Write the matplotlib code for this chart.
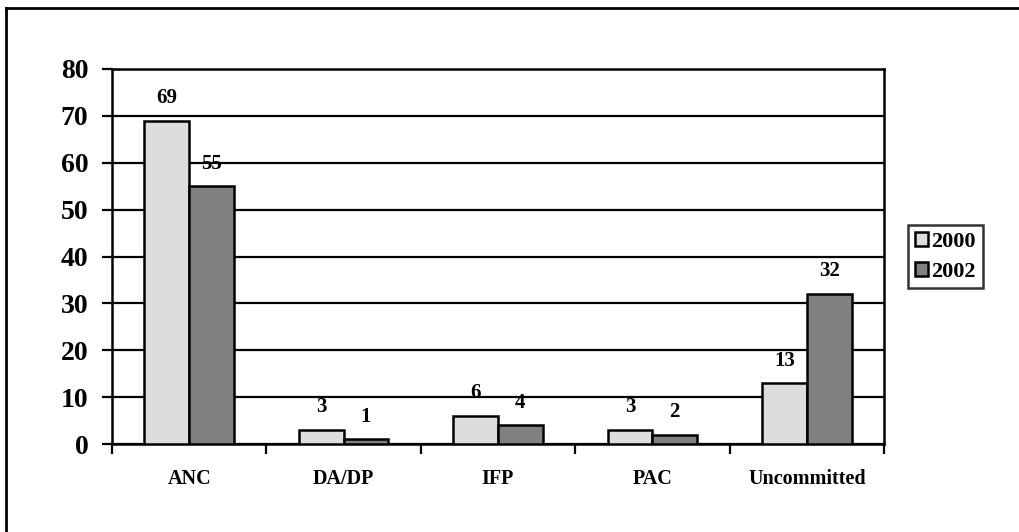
import numpy as np
import matplotlib.pyplot as plt
from matplotlib.lines import Line2D

parties = ['ANC', 'DA/DP', 'IFP', 'PAC', 'Uncommitted']
vals_2000 = [69, 3, 6, 3, 13]
vals_2002 = [55, 1, 4, 2, 32]
series_names = ['2000', '2002']
yticks = [0, 10, 20, 30, 40, 50, 60, 70, 80]

plt.rcParams['font.family'] = ['Liberation Serif', 'DejaVu Serif']
plt.rcParams['font.weight'] = 'bold'

fig = plt.figure(figsize=(10.19, 5.32), dpi=100)
ax = fig.add_axes([112/1019, 1-444/532, (884-112)/1019, (444-69)/532])

x = np.arange(len(parties))
w = 0.29
b1 = ax.bar(x - w/2, vals_2000, w, color='#dddddd', edgecolor='black', linewidth=1.8,
            label=series_names[0], zorder=3)
b2 = ax.bar(x + w/2, vals_2002, w, color='#808080', edgecolor='black', linewidth=1.8,
            label=series_names[1], zorder=3)

for bars in (b1, b2):
    for r in bars:
        ax.annotate(str(int(r.get_height())), (r.get_x() + r.get_width()/2, r.get_height()),
                    xytext=(0, 9), textcoords='offset points', ha='center', va='bottom',
                    fontsize=15, fontweight='bold')

ax.set_ylim(0, 80)
ax.set_xlim(-0.5, len(parties) - 0.5)
ax.set_yticks(yticks)
ax.set_yticklabels([str(t) for t in yticks], fontsize=20, fontweight='bold')
ax.yaxis.grid(True, color='black', linewidth=1.6, zorder=0)
ax.set_axisbelow(True)

ax.set_xticks(np.arange(-0.5, len(parties), 1.0))
ax.set_xticklabels([])
ax.set_xticks(x, minor=True)
ax.set_xticklabels(parties, minor=True, fontsize=14.5, fontweight='bold')
ax.tick_params(axis='x', which='minor', length=0, pad=18)
ax.tick_params(axis='x', which='major', length=7, width=1.6, direction='out')
ax.tick_params(axis='y', length=7, width=1.6, direction='out', pad=10)

for s in ax.spines.values():
    s.set_linewidth(1.8)

leg = ax.legend(loc='upper left', bbox_to_anchor=(908/1019, 1-225/532), bbox_transform=fig.transFigure,
                frameon=True, fancybox=False, edgecolor='black', fontsize=16,
                handlelength=0.6, handleheight=0.6, handletextpad=0.15, borderpad=0.3,
                labelspacing=0.45, borderaxespad=0)
leg.get_frame().set_linewidth(1.8)
for t in leg.get_texts():
    t.set_fontweight('bold')

# outer frame (top and left edges visible)
fig.add_artist(Line2D([6/1019, 1.0], [1-8/532, 1-8/532], transform=fig.transFigure,
                      color='black', linewidth=2))
fig.add_artist(Line2D([6/1019, 6/1019], [0, 1-8/532], transform=fig.transFigure,
                      color='black', linewidth=2))

plt.savefig('out.png', dpi=100)
